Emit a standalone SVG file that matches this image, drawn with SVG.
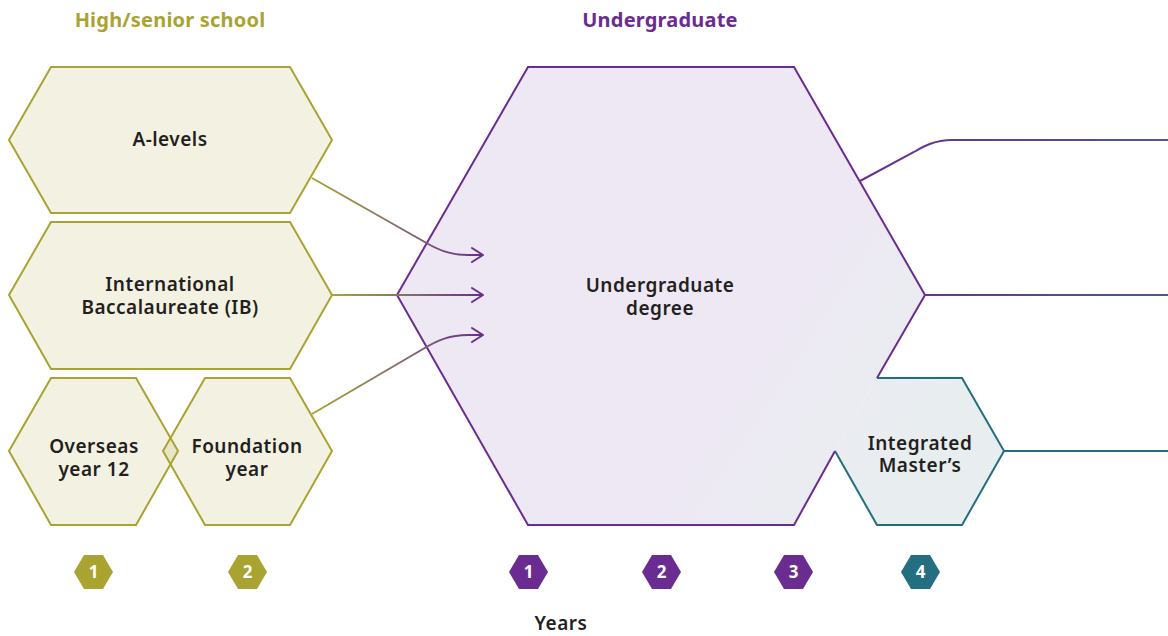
<svg xmlns="http://www.w3.org/2000/svg" width="1168" height="636" viewBox="0 0 1168 636">
<style>
.t{font-family:"Noto Sans","Liberation Sans",sans-serif;font-size:19px;font-weight:600;letter-spacing:0.5px;fill:#231f20;text-anchor:middle}
.h{font-family:"Noto Sans","Liberation Sans",sans-serif;font-size:20px;font-weight:700;letter-spacing:0.2px;text-anchor:middle}
.b{font-family:"Noto Sans","Liberation Sans",sans-serif;font-size:17px;font-weight:700;fill:#fff;text-anchor:middle}
.school{fill:#a9a431;fill-opacity:0.14;stroke:#a9a431;stroke-width:2;stroke-linejoin:miter}
.con{fill:none;stroke-width:2}
.head{fill:none;stroke:#6b2c91;stroke-width:2;stroke-linecap:round;stroke-linejoin:round}
</style>
<defs>
<linearGradient id="gfill" gradientUnits="userSpaceOnUse" x1="730" y1="370" x2="900" y2="480">
<stop offset="0" stop-color="#eee8f4"/><stop offset="1" stop-color="#e8eef0"/>
</linearGradient>
<linearGradient id="gin1" gradientUnits="userSpaceOnUse" x1="312" y1="0" x2="484" y2="0">
<stop offset="0" stop-color="#a9a431"/><stop offset="0.4" stop-color="#8a7a62"/><stop offset="1" stop-color="#6b2c91"/>
</linearGradient>
<linearGradient id="gin2" gradientUnits="userSpaceOnUse" x1="332" y1="0" x2="484" y2="0">
<stop offset="0" stop-color="#a9a431"/><stop offset="0.4" stop-color="#8a7a62"/><stop offset="1" stop-color="#6b2c91"/>
</linearGradient>
<linearGradient id="gout" gradientUnits="userSpaceOnUse" x1="860" y1="0" x2="1168" y2="0">
<stop offset="0" stop-color="#6b2c91"/><stop offset="1" stop-color="#4a5b8c"/>
</linearGradient>
</defs>
<rect width="1168" height="636" fill="#fff"/>

<g id="headers">
<text class="h" x="170" y="27" fill="#a9a431">High/senior school</text>
<text class="h" x="660" y="27" fill="#6b2c91">Undergraduate</text>
</g>

<g id="node-alevels">
<polygon class="school" points="9,140 51,67 290,67 332,140 290,213 51,213"/>
<text class="t" x="170" y="146">A-levels</text>
</g>
<g id="node-ib">
<polygon class="school" points="9,295 51,222 290,222 332,295 290,369 51,369"/>
<text class="t" x="170" y="291">International</text>
<text class="t" x="170" y="314">Baccalaureate (IB)</text>
</g>
<g id="node-overseas">
<polygon class="school" points="9,451 51,378 136,378 178,451 136,525 51,525"/>
<text class="t" x="94" y="453">Overseas</text>
<text class="t" x="94" y="476">year 12</text>
</g>
<g id="node-foundation">
<polygon class="school" points="163,451 205,378 290,378 332,451 290,525 205,525"/>
<text class="t" x="247" y="453">Foundation</text>
<text class="t" x="247" y="476">year</text>
</g>

<g id="node-undergrad">
<polygon fill="url(#gfill)" points="397,295 528,67 794,67 925,295 877,378 835,451 794,525 528,525"/>
<path d="M877,378 L925,295 L794,67 L528,67 L397,295 L528,525 L794,525 L835,451" fill="none" stroke="#6b2c91" stroke-width="2" stroke-linejoin="miter"/>
<text class="t" x="660" y="292">Undergraduate</text>
<text class="t" x="660" y="315">degree</text>
</g>

<g id="node-integrated">
<polygon fill="url(#gfill)" points="835,451 877,378 962,378 1004,451 962,525 877,525"/>
<path d="M877,378 L962,378 L1004,451 L962,525 L877,525 L835,451" fill="none" stroke="#236e80" stroke-width="2" stroke-linejoin="miter"/>
<text class="t" x="920" y="450">Integrated</text>
<text class="t" x="920" y="472">Master’s</text>
</g>

<g id="connectors">
<path class="con" stroke="url(#gin1)" d="M312,178 L423,241 C438,250 450,255 468,255 L483,255"/>
<path class="con" stroke="url(#gin2)" d="M332,295 L483,295"/>
<path class="con" stroke="url(#gin1)" d="M312,414 L423,349 C438,340 450,335 468,335 L483,335"/>
<path class="head" d="M472,248 L483,255 L472,262"/>
<path class="head" d="M472,288 L483,295 L472,302"/>
<path class="head" d="M472,328 L483,335 L472,342"/>
<path class="con" stroke="url(#gout)" d="M860,181 L914,152 C924,146 935,140 952,140 L1168,140"/>
<path class="con" stroke="url(#gout)" d="M925,295 L1168,295"/>
<path class="con" stroke="#236e80" d="M1004,451 L1168,451"/>
</g>

<g id="years">
<polygon fill="#a9a431" points="74,572 84,555 103,555 113,572 103,589 84,589"/>
<text class="b" x="93.5" y="578">1</text>
<polygon fill="#a9a431" points="228,572 238,555 257,555 267,572 257,589 238,589"/>
<text class="b" x="247.5" y="578">2</text>
<polygon fill="#6b2c91" points="509,572 519,555 538,555 548,572 538,589 519,589"/>
<text class="b" x="528.5" y="578">1</text>
<polygon fill="#6b2c91" points="642,572 652,555 671,555 681,572 671,589 652,589"/>
<text class="b" x="661.5" y="578">2</text>
<polygon fill="#6b2c91" points="774,572 784,555 803,555 813,572 803,589 784,589"/>
<text class="b" x="793.5" y="578">3</text>
<polygon fill="#236e80" points="901,572 911,555 930,555 940,572 930,589 911,589"/>
<text class="b" x="920.5" y="578">4</text>
<text class="t" x="561" y="630">Years</text>
</g>
</svg>
